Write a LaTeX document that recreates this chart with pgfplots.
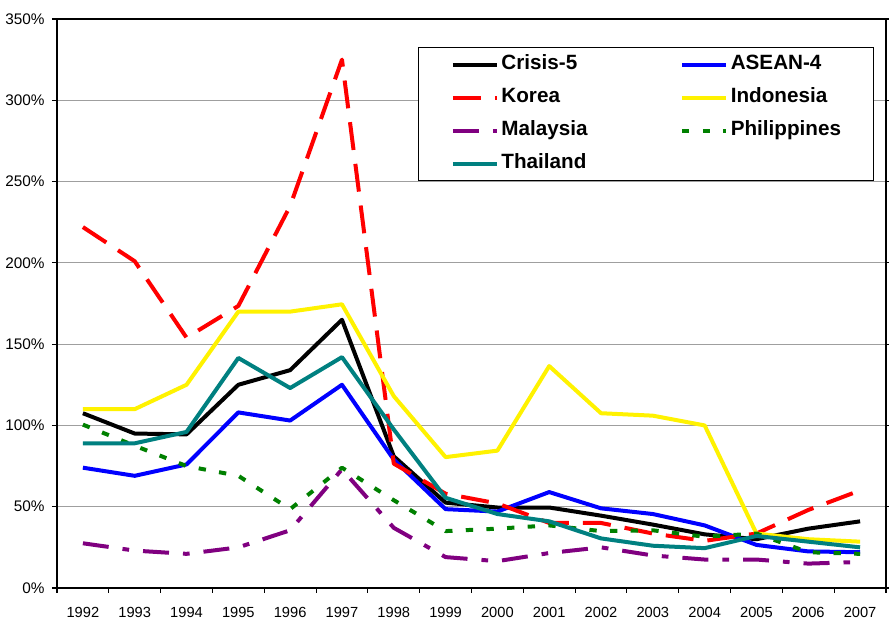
\documentclass[border=0pt]{standalone}
\usepackage{fontspec}
\setmainfont{Liberation Sans}
\usepackage{pgfplots}
\pgfplotsset{compat=1.18}
\definecolor{xlpurple}{RGB}{128,0,128}
\definecolor{xlgreen}{RGB}{0,128,0}
\definecolor{xlteal}{RGB}{0,128,128}
\begin{document}
\begin{tikzpicture}
\begin{axis}[
  scale only axis, width=621.75pt, height=426.75pt,
  xmin=0.5, xmax=16.5, ymin=0, ymax=350,
  axis line style={black, line width=1.1pt},
  xtick={0.5,1.5,...,16.5}, xticklabels={,,,,,,,,,,,,,,,,},
  extra x ticks={1,2,3,4,5,6,7,8,9,10,11,12,13,14,15,16},
  extra x tick labels={1992,1993,1994,1995,1996,1997,1998,1999,2000,2001,2002,2003,2004,2005,2006,2007},
  extra x tick style={major tick length=0pt, xticklabel style={yshift=-11pt}},
  ytick={0,50,...,350},
  yticklabel={\pgfmathprintnumber{\tick}\%},
  yticklabel style={xshift=-2pt, font=\fontsize{11.5}{13}\selectfont},
  tick align=outside, major tick length=3.75pt,
  tick style={black, line width=0.8pt},
  xtick pos=bottom, ytick pos=both, yticklabel pos=left,
  ymajorgrids, major grid style={gray!75, line width=0.6pt},
  tick label style={font=\fontsize{11}{13}\selectfont},
  /pgf/number format/assume math mode=true,
  legend columns=2,
  legend cell align=left,
  legend image code/.code={\draw[#1] (0pt,0pt) -- (33pt,0pt);},
  legend style={at={(0.9855,0.9508)}, anchor=north east, draw=black, line width=0.8pt,
    font=\bfseries\fontsize{15.5}{18}\selectfont,
    inner xsep=24pt, inner ysep=3.75pt, row sep=6.75pt,
    /tikz/every even column/.append style={column sep=51pt},
    nodes={text height=11pt, text depth=3pt, inner sep=2pt, text width=81pt, align=left}},
  every axis plot/.append style={line width=3pt, line join=round, line cap=butt},
]
\addplot[black] coordinates {(1,107.5)(2,95)(3,94.5)(4,125)(5,134)(6,165)(7,81)(8,52.5)(9,49.5)(10,49.5)(11,44.5)(12,39)(13,33)(14,30)(15,36.5)(16,41)};
\addlegendentry{Crisis-5}
\addplot[blue] coordinates {(1,74)(2,69)(3,76)(4,108)(5,103)(6,125)(7,79)(8,48.5)(9,47)(10,59)(11,49)(12,45.5)(13,38.5)(14,26.5)(15,22.5)(16,22)};
\addlegendentry{ASEAN-4}
\addplot[red, dash pattern=on 21pt off 10.5pt] coordinates {(1,222)(2,201)(3,154)(4,173.5)(5,235)(6,325)(7,76.5)(8,58)(9,52)(10,40)(11,40)(12,33.5)(13,29)(14,33.5)(15,48)(16,60)};
\addlegendentry{Korea}
\addplot[yellow] coordinates {(1,110)(2,110)(3,125)(4,170)(5,170)(6,174.5)(7,118)(8,80.5)(9,84.5)(10,136.5)(11,107.5)(12,106)(13,100)(14,33.5)(15,30)(16,28.5)};
\addlegendentry{Indonesia}
\addplot[xlpurple, dash pattern=on 19.5pt off 10.5pt on 5pt off 10.5pt] coordinates {(1,27.5)(2,23)(3,21)(4,25)(5,35.5)(6,73)(7,37)(8,19)(9,16.5)(10,21.5)(11,25)(12,20)(13,17.5)(14,17.5)(15,15)(16,16)};
\addlegendentry{Malaysia}
\addplot[xlgreen, dash pattern=on 5.5pt off 10pt] coordinates {(1,100.5)(2,87.5)(3,75)(4,69)(5,48.5)(6,74)(7,54)(8,35)(9,36.5)(10,38.5)(11,35)(12,35.5)(13,31.5)(14,33.5)(15,22)(16,21)};
\addlegendentry{Philippines}
\addplot[xlteal] coordinates {(1,89)(2,89)(3,96)(4,141.5)(5,123)(6,142)(7,97.5)(8,55.5)(9,45.5)(10,41)(11,30.5)(12,26)(13,24.5)(14,32)(15,28.5)(16,25)};
\addlegendentry{Thailand}
\end{axis}
\pgfresetboundingbox
\path ([xshift=-42.75pt,yshift=-24pt]current axis.south west) rectangle ([xshift=2.25pt,yshift=14.25pt]current axis.north east);
\end{tikzpicture}
\end{document}
